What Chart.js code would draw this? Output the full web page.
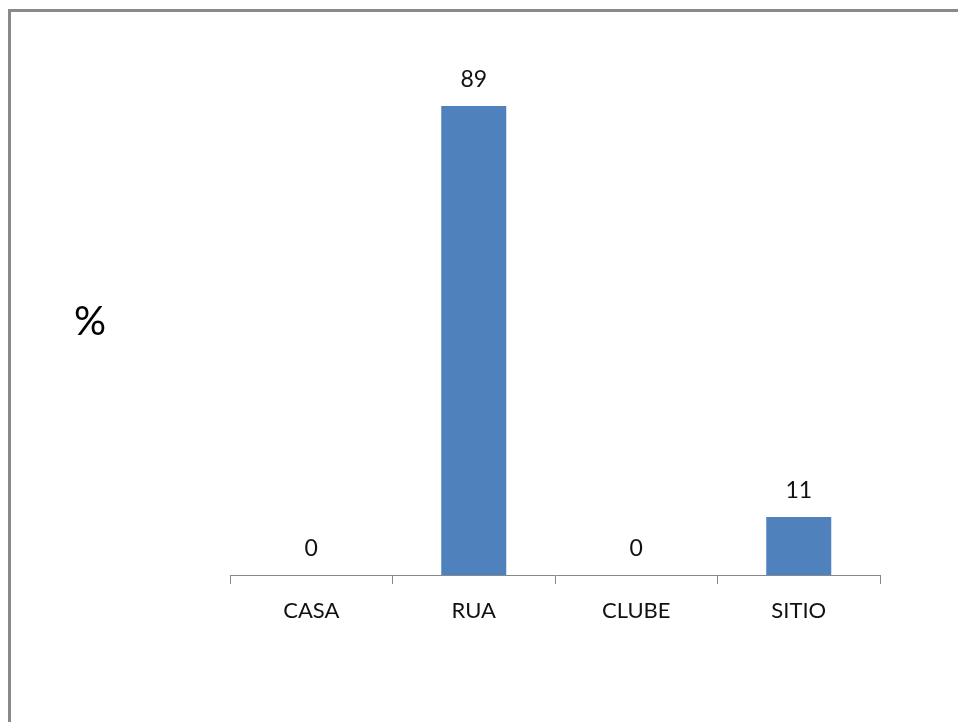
<!DOCTYPE html>
<html>
<head>
<meta charset="utf-8">
<script src="https://cdn.jsdelivr.net/npm/chart.js@4/dist/chart.umd.min.js"></script>
<style>
  html, body { margin: 0; padding: 0; background: #fff; }
  #wrap { position: relative; width: 958px; height: 722px; overflow: hidden; }
  #frame {
    position: absolute; left: 8px; top: 9px; width: 1000px; height: 800px;
    border-left: 3px solid #898989; border-top: 3px solid #898989;
  }
  #unit {
    position: absolute; left: 74px; top: 296px;
    font-family: Lato, "Open Sans", sans-serif; font-size: 40px; color: #000;
  }
  canvas { position: absolute; left: 0; top: 0; }
</style>
</head>
<body>
<div id="wrap">
  <div id="frame"></div>
  <canvas id="barChart" width="958" height="722"></canvas>
  <div id="unit">%</div>
</div>
<script>
const categories = ['CASA', 'RUA', 'CLUBE', 'SITIO'];
const percentValues = [0, 89, 0, 11];
const yRange = [0, 100];

const FONT = 'Lato, "Open Sans", sans-serif';

// writes each bar's value just above its top
const valueLabels = {
    id: 'valueLabels',
    afterDatasetsDraw(chart) {
        const ctx = chart.ctx;
        const meta = chart.getDatasetMeta(0);
        ctx.save();
        ctx.font = '23px ' + FONT;
        ctx.fillStyle = '#111';
        ctx.textAlign = 'center';
        ctx.textBaseline = 'middle';
        meta.data.forEach((bar, i) => {
            ctx.fillText(String(percentValues[i]), bar.x, bar.y - 26);
        });
        ctx.restore();
    },
};

new Chart(document.getElementById('barChart').getContext('2d'), {
    type: 'bar',
    data: {
        labels: categories,
        datasets: [
            {
                data: percentValues,
                backgroundColor: '#4F81BD',
                barPercentage: 0.4,
                categoryPercentage: 1,
            },
        ],
    },
    options: {
        responsive: false,
        animation: false,
        layout: { padding: { left: 230, right: 78, top: 48, bottom: 47 } },
        plugins: {
            legend: { display: false },
            tooltip: { enabled: false },
        },
        scales: {
            x: {
                grid: {
                    offset: true,
                    drawOnChartArea: false,
                    drawTicks: true,
                    tickLength: 9,
                    color: '#888',
                },
                border: { display: true, color: '#888', width: 1 },
                ticks: {
                    color: '#111',
                    padding: 14,
                    font: { family: FONT, size: 22 },
                },
                afterFit: (scale) => { scale.height = 100; },
            },
            y: {
                display: false,
                min: yRange[0],
                max: yRange[1],
            },
        },
    },
    plugins: [valueLabels],
});
</script>
</body>
</html>
